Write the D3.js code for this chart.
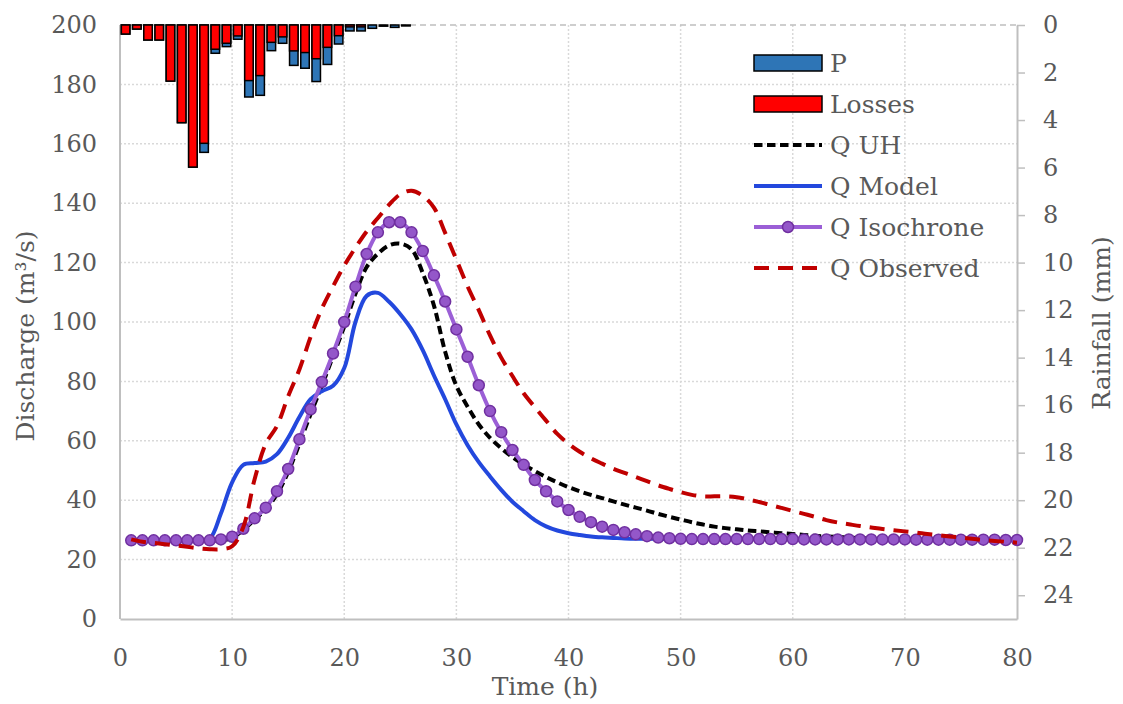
<!DOCTYPE html>
<html>
<head>
<meta charset="utf-8">
<script src="https://cdn.jsdelivr.net/npm/d3@7"></script>
<style>
  body { margin: 0; background: #fff; }
  text { font-family: "DejaVu Serif", serif; fill: #595959; }
</style>
</head>
<body>
<svg id="chart" width="1123" height="704"></svg>
<script>
// hourly rainfall (mm), hours 1..26
const rainHours = [1, 2, 3, 4, 5, 6, 7, 8, 9, 10, 11, 12, 13, 14, 15, 16, 17, 18, 19, 20, 21, 22, 23, 24, 25, 26];
const rainP = [0.38, 0.17, 0.63, 0.63, 2.36, 4.11, 5.98, 5.36, 1.19, 0.91, 0.60, 3.03, 2.96, 1.08, 0.77, 1.70, 1.82, 2.38, 1.66, 0.80, 0.25, 0.25, 0.14, 0.05, 0.10, 0.04];
const rainLosses = [0.38, 0.17, 0.63, 0.63, 2.36, 4.11, 5.98, 4.98, 1.02, 0.77, 0.46, 2.34, 2.13, 0.73, 0.50, 1.09, 1.16, 1.42, 0.94, 0.45, 0.08, 0.08, 0, 0, 0, 0];

// discharge (m3/s), hours 1..80
const hours = [1, 2, 3, 4, 5, 6, 7, 8, 9, 10, 11, 12, 13, 14, 15, 16, 17, 18, 19, 20,
  21, 22, 23, 24, 25, 26, 27, 28, 29, 30, 31, 32, 33, 34, 35, 36, 37, 38, 39, 40,
  41, 42, 43, 44, 45, 46, 47, 48, 49, 50, 51, 52, 53, 54, 55, 56, 57, 58, 59, 60,
  61, 62, 63, 64, 65, 66, 67, 68, 69, 70, 71, 72, 73, 74, 75, 76, 77, 78, 79, 80];
const qUH = [26.5, 26.5, 26.5, 26.5, 26.5, 26.5, 26.5, 26.5, 26.5, 27.4,
  30, 33.4, 37, 42, 49.5, 59, 69, 78.5, 88.5, 98.5,
  109.5, 118.5, 123, 125.8, 126.4, 124.5, 116.5, 105.5, 90, 78.5,
  71.5, 65.5, 61, 57.5, 54.5, 52, 49.8, 47.8, 46, 44.4,
  43, 41.8, 40.7, 39.6, 38.5, 37.5, 36.5, 35.4, 34.4, 33.5,
  32.6, 31.8, 31.1, 30.6, 30.2, 29.8, 29.5, 29.2, 28.9, 28.6,
  28.3, 28, 27.8, 27.6, 27.4, 27.2, 27.1, 27, 26.9, 26.9,
  26.8, 26.8, 26.8, 26.7, 26.7, 26.7, 26.7, 26.7, 26.7, 26.7];
const qModel = [26.5, 26.5, 26.5, 26.5, 26.5, 26.5, 26.5, 27, 35.5, 46,
  51.9, 52.5, 53, 55.5, 61, 68, 74, 76.7, 78.5, 84.5,
  100, 108.8, 109.8, 106.8, 102.6, 97.5, 90.5, 82, 74, 65.5,
  58.5, 52.8, 48, 43.5, 39.5, 36.3, 33.3, 31.2, 29.8, 28.9,
  28.3, 27.8, 27.5, 27.3, 27.1, 27, 27, 27, 26.9, 26.9,
  26.9, 26.9, 26.9, 26.9, 26.9, 26.9, 26.9, 26.9, 26.9, 26.9,
  26.8, 26.8, 26.8, 26.8, 26.8, 26.8, 26.8, 26.8, 26.8, 26.8,
  26.8, 26.8, 26.8, 26.8, 26.8, 26.8, 26.8, 26.8, 26.8, 26.8];
const qIsochrone = [26.5, 26.5, 26.5, 26.5, 26.5, 26.5, 26.5, 26.5, 26.8, 27.7,
  30.4, 33.9, 37.5, 43, 50.5, 60.5, 70.6, 79.8, 89.4, 100,
  111.9, 122.9, 130.2, 133.6, 133.6, 130.2, 123.9, 115.7, 106.9, 97.5,
  88.3, 78.7, 70, 62.9, 56.9, 51.9, 46.8, 43, 39.6, 36.7,
  34.4, 32.6, 31.1, 30, 29.2, 28.5, 27.9, 27.4, 27.2, 27,
  26.9, 26.9, 26.9, 26.9, 26.9, 26.9, 26.9, 26.9, 26.9, 26.9,
  26.8, 26.8, 26.8, 26.8, 26.8, 26.8, 26.8, 26.8, 26.8, 26.8,
  26.7, 26.7, 26.7, 26.7, 26.7, 26.7, 26.7, 26.7, 26.6, 26.6];
const qObserved = [26.8, 26, 25.6, 25.2, 24.8, 24.3, 23.8, 23.5, 23.5, 24.5,
  31, 47, 59, 65, 75, 84, 95, 104.5, 112, 119,
  125, 130.5, 135, 139.5, 143, 144.2, 142.5, 138.5, 130, 121,
  112, 104, 95.5, 88, 81.8, 76, 71.3, 66.8, 62.3, 59,
  56.3, 54.1, 52.3, 50.6, 49.2, 47.8, 46.4, 45, 43.8, 42.7,
  41.8, 41.3, 41.3, 41.3, 41, 40.3, 39.4, 38.4, 37.4, 36.4,
  35.4, 34.4, 33.3, 32.5, 31.9, 31.3, 30.8, 30.3, 29.9, 29.5,
  29.1, 28.6, 28.2, 27.8, 27.4, 27, 26.6, 26.3, 26, 25.7];

// axis ticks
const timeTicks = [0, 10, 20, 30, 40, 50, 60, 70, 80];
const qTicks = [0, 20, 40, 60, 80, 100, 120, 140, 160, 180, 200];
const rainTicks = [0, 2, 4, 6, 8, 10, 12, 14, 16, 18, 20, 22, 24];

const plotLeft = 120, plotRight = 1017, plotTop = 25, plotBottom = 619;
const axisColor = "#bfbfbf";

const svg = d3.select("#chart");
const x = d3.scaleLinear([0, 80], [plotLeft, plotRight]);
const yQ = d3.scaleLinear([0, 200], [plotBottom, plotTop]);
const yR = d3.scaleLinear([0, 25], [plotTop, plotBottom]);

// grid
const grid = svg.append("g");
grid.selectAll(".gx").data(timeTicks.slice(1, -1)).join("line")
  .attr("x1", (d) => x(d)).attr("x2", (d) => x(d))
  .attr("y1", plotTop).attr("y2", plotBottom)
  .attr("stroke", "#d9d9d9").attr("stroke-width", 1.5).attr("stroke-dasharray", "2,2");
grid.selectAll(".gy").data(qTicks.slice(1, -1)).join("line")
  .attr("x1", plotLeft).attr("x2", plotRight)
  .attr("y1", (d) => yQ(d)).attr("y2", (d) => yQ(d))
  .attr("stroke", "#d9d9d9").attr("stroke-width", 1.5).attr("stroke-dasharray", "2,2");
grid.append("line")
  .attr("x1", plotLeft).attr("x2", plotRight).attr("y1", yQ(200)).attr("y2", yQ(200))
  .attr("stroke", axisColor).attr("stroke-width", 1.5).attr("stroke-dasharray", "6,4");

// axes
const axisL = svg.append("g").attr("transform", `translate(${plotLeft},0)`)
  .call(d3.axisLeft(yQ).tickValues(qTicks).tickSize(0).tickPadding(23));
const axisB = svg.append("g").attr("transform", `translate(0,${plotBottom})`)
  .call(d3.axisBottom(x).tickValues(timeTicks).tickSize(0).tickPadding(30));
const axisR = svg.append("g").attr("transform", `translate(${plotRight},0)`)
  .call(d3.axisRight(yR).tickValues(rainTicks).tickSize(8).tickSizeOuter(0).tickPadding(18));
[axisL, axisB, axisR].forEach((g) => {
  g.selectAll("text").style("font-size", "24px").attr("fill", "#595959");
  g.selectAll("line").attr("stroke", axisColor).attr("stroke-width", 1.5);
  g.select(".domain").attr("stroke", axisColor).attr("stroke-width", 2);
});
axisL.select(".domain").remove();
svg.append("line").attr("x1", plotLeft).attr("x2", plotLeft).attr("y1", plotTop).attr("y2", plotBottom)
  .attr("stroke", axisColor).attr("stroke-width", 2);

// axis titles
svg.append("text").attr("transform", "translate(34,336) rotate(-90)")
  .attr("text-anchor", "middle").style("font-size", "25px").text("Discharge (m³/s)");
svg.append("text").attr("transform", "translate(1110,323) rotate(-90)")
  .attr("text-anchor", "middle").style("font-size", "25px").text("Rainfall (mm)");
svg.append("text").attr("x", 545).attr("y", 695)
  .attr("text-anchor", "middle").style("font-size", "25px").text("Time (h)");

// rainfall bars
const barW = 8.5;
const bars = svg.append("g");
bars.selectAll(".p").data(rainHours).join("rect")
  .attr("x", (d) => x(d - 0.5) - barW / 2).attr("width", barW)
  .attr("y", yR(0)).attr("height", (d, i) => yR(rainP[i]) - yR(0))
  .attr("fill", "#2e75b6").attr("stroke", "#000").attr("stroke-width", 1.5);
bars.selectAll(".l").data(rainHours.filter((d, i) => rainLosses[i] > 0)).join("rect")
  .attr("x", (d) => x(d - 0.5) - barW / 2).attr("width", barW)
  .attr("y", yR(0)).attr("height", (d) => yR(rainLosses[d - 1]) - yR(0))
  .attr("fill", "#ff0000").attr("stroke", "#000").attr("stroke-width", 1.5);

// discharge lines
const line = (vals) => d3.line().curve(d3.curveCatmullRom.alpha(0.5))
  .x((d) => x(d)).y((d, i) => yQ(vals[i]))(hours);

svg.append("path").attr("d", line(qUH)).attr("fill", "none")
  .attr("stroke", "#000").attr("stroke-width", 4).attr("stroke-dasharray", "8.5,4.5");
svg.append("path").attr("d", line(qModel)).attr("fill", "none")
  .attr("stroke", "#2348dd").attr("stroke-width", 4);
svg.append("path").attr("d", line(qIsochrone)).attr("fill", "none")
  .attr("stroke", "#9b5fd6").attr("stroke-width", 4);
svg.append("g").selectAll("circle").data(hours).join("circle")
  .attr("cx", (d) => x(d)).attr("cy", (d, i) => yQ(qIsochrone[i])).attr("r", 5.5)
  .attr("fill", "#9457c9").attr("stroke", "#7030a0").attr("stroke-width", 1.5);
svg.append("path").attr("d", line(qObserved)).attr("fill", "none")
  .attr("stroke", "#c00000").attr("stroke-width", 4).attr("stroke-dasharray", "15,9");

// legend
const legendItems = ["P", "Losses", "Q UH", "Q Model", "Q Isochrone", "Q Observed"];
const legendY = [63, 104, 145, 186, 227, 268];
const lg = svg.append("g");
legendItems.forEach((name, i) => {
  const cy = legendY[i];
  if (i < 2) {
    lg.append("rect").attr("x", 754).attr("y", cy - 8).attr("width", 68).attr("height", 16)
      .attr("fill", i === 0 ? "#2e75b6" : "#ff0000").attr("stroke", "#000").attr("stroke-width", 1.5);
  } else {
    const styles = [
      { c: "#000", dash: "8.5,4.5" },
      { c: "#2348dd", dash: null },
      { c: "#9b5fd6", dash: null },
      { c: "#c00000", dash: "15,9" }
    ][i - 2];
    lg.append("line").attr("x1", 754).attr("x2", 822).attr("y1", cy).attr("y2", cy)
      .attr("stroke", styles.c).attr("stroke-width", 4).attr("stroke-dasharray", styles.dash);
    if (i === 4) {
      lg.append("circle").attr("cx", 788).attr("cy", cy).attr("r", 5.5)
        .attr("fill", "#9457c9").attr("stroke", "#7030a0").attr("stroke-width", 1.5);
    }
  }
  lg.append("text").attr("x", 830).attr("y", cy).attr("dy", "0.35em")
    .style("font-size", "25px").text(name);
});
</script>
</body>
</html>
